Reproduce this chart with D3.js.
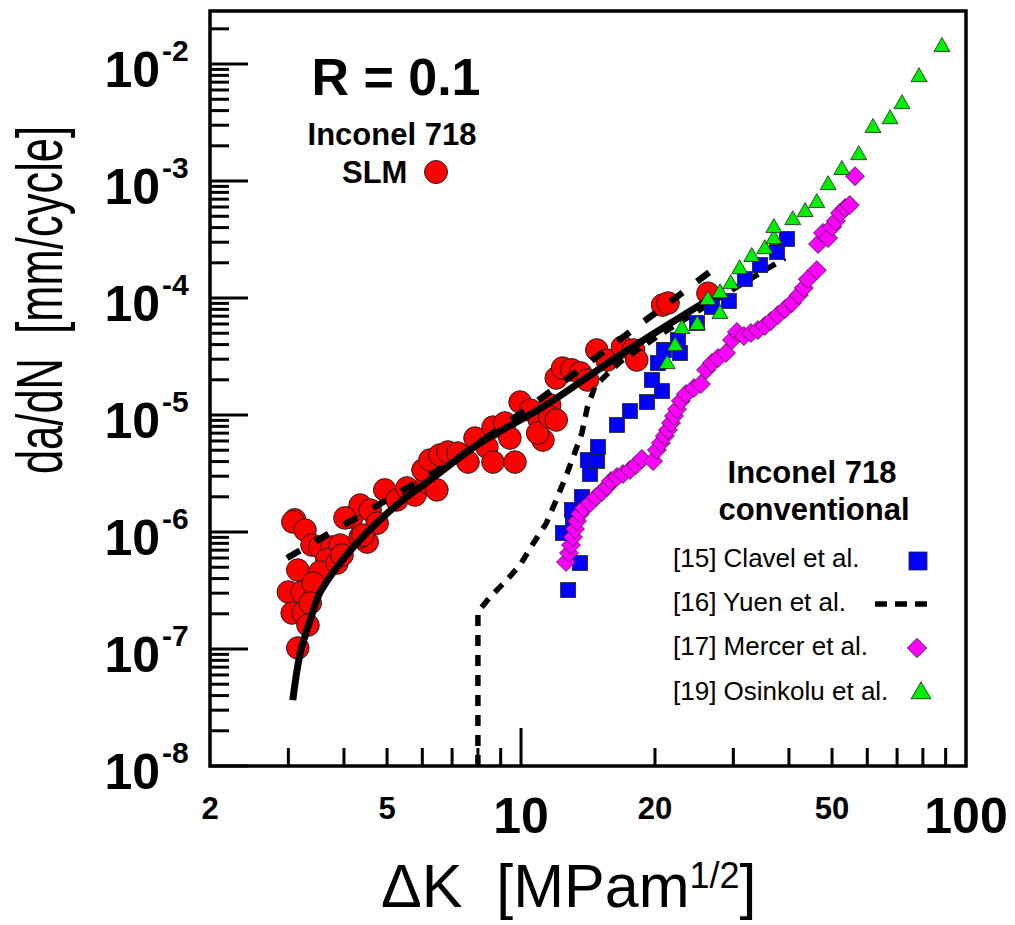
<!DOCTYPE html>
<html>
<head>
<meta charset="utf-8">
<script src="https://cdn.jsdelivr.net/npm/d3@7"></script>
<style>
  body { margin: 0; background: #fff; }
  svg { display: block; font-family: "Liberation Sans", Arial, sans-serif; }
</style>
</head>
<body>
<div id="chart"></div>
<script>
// Inconel 718 SLM, R = 0.1  [dK, da/dN]
const slmPoints = [
  [3.10,1.27e-6],[3.07,1.22e-6],[3.27,1.04e-6],[3.15,4.73e-7],[3.00,3.07e-7],[3.22,3.07e-7],
  [3.06,2.03e-7],[3.24,2.03e-7],[3.32,1.60e-7],[3.15,1.02e-7],[3.39,7.74e-7],[3.53,7.45e-7],
  [3.76,7.45e-7],[3.92,7.74e-7],[3.66,5.77e-7],[3.53,4.55e-7],[3.41,3.66e-7],[3.86,5.43e-7],
  [3.96,6.35e-7],[3.36,2.47e-7],[4.17,1.34e-6],[4.35,1.70e-6],[4.58,1.54e-6],[4.75,1.19e-6],
  [4.51,8.2e-7],[4.35,9.06e-7],[4.02,1.32e-6],[4.41,9.4e-7],[4.94,2.29e-6],[5.26,1.88e-6],
  [5.54,2.38e-6],[5.78,2.07e-6],[6.15,2.67e-6],[6.47,2.29e-6],[6.02,3.39e-6],[6.24,4.12e-6],
  [6.57,4.55e-6],[6.85,4.83e-6],[7.21,4.73e-6],[7.60,3.96e-6],[7.88,6.35e-6],[8.38,5.32e-6],
  [8.65,3.96e-6],[9.69,3.96e-6],[8.65,7.88e-6],[9.20,8.55e-6],[9.44,6.35e-6],[9.95,1.29e-5],
  [10.5,1.10e-5],[11.0,9.06e-6],[11.2,6.1e-6],[10.9,7.0e-6],[11.6,1.22e-5],[11.6,9.6e-6],
  [12.0,9.06e-6],[12.0,2.07e-5],[12.4,2.52e-5],[13.0,2.43e-5],[13.6,2.29e-5],[14.1,1.99e-5],
  [14.8,3.6e-5],[15.6,2.95e-5],[16.9,3.81e-5],[17.9,3.6e-5],[18.2,2.95e-5],[20.8,8.7e-5],
  [21.4,9.06e-5],[26.3,1.10e-4]
];

// fitted curve through the SLM data (solid)
const slmFitCurve = [
  [3.07,3.66e-8],[3.19,9.2e-8],[3.36,1.77e-7],[3.53,3.01e-7],[3.86,5.02e-7],[4.28,8.05e-7],
  [4.82,1.27e-6],[5.43,1.88e-6],[6.24,2.78e-6],[8.09,5.77e-6],[11.2,1.17e-5],[16.7,3.26e-5],
  [25.9,9.25e-5]
];

// power-law line through the SLM data (dashed)
const slmParisLine = [
  [2.98,6.0e-7],[5.21,2.07e-6],[7.18,4.28e-6],[19.5,6.89e-5],[28.0,1.95e-4]
];

// [15] Clavel et al.
const clavelPoints = [
  [12.76,3.19e-7],[13.57,5.43e-7],[12.43,9.8e-7],[13.08,1.19e-6],[13.02,1.54e-6],[13.71,1.99e-6],
  [14.29,3.13e-6],[14.13,4.12e-6],[14.82,4.04e-6],[14.89,5.32e-6],[16.43,8.22e-6],[17.57,1.08e-5],
  [19.19,1.29e-5],[20.74,1.60e-5],[19.69,1.99e-5],[20.31,2.78e-5],[20.94,3.6e-5],[22.76,3.39e-5],
  [22.53,4.38e-5],[24.85,6.11e-5],[26.85,8.38e-5],[29.31,9.42e-5],[31.84,1.45e-4],[34.43,1.91e-4],
  [37.6,2.47e-4],[39.6,3.19e-4]
];

// [16] Yuen et al.
const yuenCurve = [
  [8.0,1e-8],[8.0,2.07e-7],[8.52,2.78e-7],[9.20,3.74e-7],[9.95,5.22e-7],[10.6,7.74e-7],
  [11.4,1.19e-6],[12.0,1.88e-6],[12.7,3.19e-6],[13.2,4.73e-6],[13.7,7.0e-6],[14.1,1.17e-5],
  [14.7,1.80e-5],[16.7,2.84e-5],[20.5,4.83e-5],[29.0,1.10e-4],[39.2,2.20e-4]
];

// [17] Mercer et al.
const mercerPoints = [
  [12.62,5.54e-7],[12.82,6.62e-7],[12.95,7.74e-7],[13.08,9.06e-7],[13.22,1.06e-6],[13.36,1.24e-6],
  [13.57,1.43e-6],[13.85,1.60e-6],[14.29,1.77e-6],[14.74,1.99e-6],[15.20,2.20e-6],[15.60,2.43e-6],
  [15.93,2.73e-6],[16.43,2.95e-6],[16.95,3.13e-6],[17.57,3.39e-6],[18.12,3.74e-6],[18.69,4.21e-6],
  [19.80,4.04e-6],[20.20,5.02e-6],[20.62,5.77e-6],[21.05,6.62e-6],[21.39,7.45e-6],[21.73,8.55e-6],
  [22.07,9.8e-6],[22.41,1.12e-5],[22.87,1.32e-5],[23.48,1.51e-5],[24.47,1.70e-5],[25.36,1.84e-5],
  [26.05,2.43e-5],[26.85,2.78e-5],[27.71,3.07e-5],[28.88,3.39e-5],[29.79,4.38e-5],[30.56,5.12e-5],
  [31.68,4.73e-5],[32.85,5.02e-5],[34.06,5.32e-5],[35.31,5.77e-5],[36.45,6.36e-5],[37.8,7.16e-5],
  [39.2,8.05e-5],[40.6,9.06e-5],[42.1,1.06e-4],[43.2,1.22e-4],[44.1,1.45e-4],[46.2,1.73e-4],
  [46.5,2.90e-4],[47.7,3.60e-4],[49.0,3.26e-4],[50.0,4.05e-4],[51.0,4.55e-4],[52.1,5.32e-4],
  [53.5,5.87e-4],[54.8,6.23e-4],[56.3,1.10e-3]
];

// [19] Osinkolu et al.
const osinkoluPoints = [
  [21.3,2.78e-5],[22.2,3.96e-5],[23.0,5.55e-5],[24.9,6.0e-5],[26.3,9.8e-5],[28.0,1.12e-4],
  [28.0,7.45e-5],[29.6,1.34e-4],[31.0,1.80e-4],[33.0,2.29e-4],[35.3,2.67e-4],[37.0,3.26e-4],
  [37.0,4.05e-4],[40.8,4.73e-4],[43.5,5.54e-4],[46.2,6.62e-4],[49.0,9.42e-4],[52.6,1.27e-3],
  [57.4,1.70e-3],[61.8,2.90e-3],[67.5,3.45e-3],[71.8,4.64e-3],[78.4,7.89e-3],[88.3,1.43e-2]
];

const yDecades = [-8, -7, -6, -5, -4, -3, -2];
const xSmallLabels = [2, 5, 20, 50];
const xBigLabels = [10, 100];
const legendLabels = ['[15] Clavel et al.', '[16] Yuen et al.', '[17] Mercer et al.', '[19] Osinkolu et al.'];

const W = 1015, H = 925;
const svg = d3.select('#chart').append('svg').attr('width', W).attr('height', H);

const x = d3.scaleLog().domain([2, 100]).range([210, 966]);
const y = d3.scaleLog().domain([1e-8, 0.0284]).range([766, 11]);

// only 1..9 x 10^n ticks
const isLogStep = v => {
  const m = v / Math.pow(10, Math.floor(Math.log10(v) + 1e-9));
  return Math.abs(m - Math.round(m)) < 1e-6;
};

// ticks (inside, left and bottom only)
const tickG = svg.append('g').attr('stroke', '#000').attr('stroke-width', 3);
y.ticks().filter(isLogStep).forEach(v => {
  const lg = Math.log10(v);
  const major = Math.abs(lg - Math.round(lg)) < 1e-6;
  tickG.append('line')
    .attr('x1', 210).attr('x2', 210 + (major ? 38 : 19))
    .attr('y1', y(v)).attr('y2', y(v));
});
x.ticks().filter(isLogStep).forEach(v => {
  if (v <= 2 || v >= 100) return;
  tickG.append('line')
    .attr('x1', x(v)).attr('x2', x(v))
    .attr('y1', 766).attr('y2', 766 - (v === 10 ? 38 : 18));
});

// frame
svg.append('rect')
  .attr('x', 210).attr('y', 11).attr('width', 756).attr('height', 755)
  .attr('fill', 'none').attr('stroke', '#000').attr('stroke-width', 3.5);

// y tick labels
yDecades.forEach(e => {
  const yy = y(Math.pow(10, e));
  svg.append('text').attr('font-weight', 'bold').attr('font-size', 50)
    .attr('x', 160).attr('y', yy + 23).attr('text-anchor', 'end').text('10');
  svg.append('text').attr('font-weight', 'bold').attr('font-size', 30)
    .attr('x', 162).attr('y', yy - 3).text('-' + Math.abs(e));
});

// x tick labels
xSmallLabels.forEach(v => {
  svg.append('text').attr('x', x(v)).attr('y', 819).attr('text-anchor', 'middle')
    .attr('font-weight', 'bold').attr('font-size', 31).text(v);
});
xBigLabels.forEach(v => {
  svg.append('text').attr('x', x(v)).attr('y', 833).attr('text-anchor', 'middle')
    .attr('font-weight', 'bold').attr('font-size', 50).text(v);
});

// axis titles
const xt = svg.append('text').attr('x', 381).attr('y', 907)
  .attr('font-size', 61).style('white-space', 'pre');
xt.append('tspan').text('ΔK  [MPam');
xt.append('tspan').attr('font-size', 36).attr('dy', -19).text('1/2');
xt.append('tspan').attr('dy', 19).text(']');

// the y title is drawn condensed along its length, as in the original
svg.append('text')
  .attr('transform', 'translate(62,300) rotate(-90) scale(0.68,1)')
  .attr('text-anchor', 'middle')
  .attr('font-size', 64)
  .style('white-space', 'pre')
  .text('da/dN  [mm/cycle]');

// data
const plot = svg.append('g');
const px = d => x(d[0]), py = d => y(d[1]);

plot.append('g').selectAll('circle').data(slmPoints).join('circle')
  .attr('cx', px).attr('cy', py).attr('r', 11.3)
  .attr('fill', '#ff0000').attr('stroke', '#222').attr('stroke-width', 1);

const smooth = d3.line().x(px).y(py).curve(d3.curveCatmullRom.alpha(0.5));
plot.append('path').datum(yuenCurve)
  .attr('d', d3.line().x(px).y(py))
  .attr('fill', 'none').attr('stroke', '#000').attr('stroke-width', 5.5)
  .attr('stroke-dasharray', '11,9');
plot.append('path').datum(slmParisLine)
  .attr('d', smooth)
  .attr('fill', 'none').attr('stroke', '#000').attr('stroke-width', 6.5)
  .attr('stroke-dasharray', '15,18');
plot.append('path').datum(slmFitCurve)
  .attr('d', smooth)
  .attr('fill', 'none').attr('stroke', '#000').attr('stroke-width', 7);

plot.append('g').selectAll('rect').data(clavelPoints).join('rect')
  .attr('x', d => px(d) - 7.5).attr('y', d => py(d) - 7.5)
  .attr('width', 15).attr('height', 15)
  .attr('fill', '#0000ff').attr('stroke', '#222').attr('stroke-width', 0.8);

const diamond = r => `M0,${-r}L${r},0L0,${r}L${-r},0Z`;
const triangle = (w, h) => `M0,${-h * 0.6}L${w / 2},${h * 0.4}L${-w / 2},${h * 0.4}Z`;

plot.append('g').selectAll('path').data(mercerPoints).join('path')
  .attr('transform', d => `translate(${px(d)},${py(d)})`)
  .attr('d', diamond(9.5))
  .attr('fill', '#ff00ff').attr('stroke', '#222').attr('stroke-width', 0.8);

plot.append('g').selectAll('path').data(osinkoluPoints).join('path')
  .attr('transform', d => `translate(${px(d)},${py(d)})`)
  .attr('d', triangle(16, 14))
  .attr('fill', '#00ee00').attr('stroke', '#222').attr('stroke-width', 0.8);

// annotations
svg.append('text').attr('x', 396).attr('y', 95).attr('text-anchor', 'middle')
  .attr('font-weight', 'bold').attr('font-size', 52).text('R = 0.1');
svg.append('text').attr('x', 392).attr('y', 145).attr('text-anchor', 'middle')
  .attr('font-weight', 'bold').attr('font-size', 31).text('Inconel 718');
svg.append('text').attr('x', 342).attr('y', 183)
  .attr('font-weight', 'bold').attr('font-size', 31).text('SLM');
svg.append('circle').attr('cx', 436).attr('cy', 172).attr('r', 11.5)
  .attr('fill', '#ff0000').attr('stroke', '#222').attr('stroke-width', 1);

// legend
svg.append('text').attr('x', 812).attr('y', 483).attr('text-anchor', 'middle')
  .attr('font-weight', 'bold').attr('font-size', 31).text('Inconel 718');
svg.append('text').attr('x', 814).attr('y', 520).attr('text-anchor', 'middle')
  .attr('font-weight', 'bold').attr('font-size', 31).text('conventional');

const legY = [567, 611, 655, 700];
legendLabels.forEach((s, i) => {
  svg.append('text').attr('x', 673).attr('y', legY[i]).attr('font-size', 26).text(s);
});
svg.append('rect').attr('x', 909).attr('y', 552).attr('width', 18).attr('height', 18)
  .attr('fill', '#0000ff').attr('stroke', '#222').attr('stroke-width', 0.8);
svg.append('line').attr('x1', 875).attr('x2', 935).attr('y1', 604).attr('y2', 604)
  .attr('stroke', '#000').attr('stroke-width', 5.5).attr('stroke-dasharray', '12,8');
svg.append('path').attr('transform', 'translate(917,648)').attr('d', diamond(9.7))
  .attr('fill', '#ff00ff').attr('stroke', '#222').attr('stroke-width', 0.8);
svg.append('path').attr('transform', 'translate(921,692)').attr('d', triangle(20, 17))
  .attr('fill', '#00ee00').attr('stroke', '#222').attr('stroke-width', 0.8);
</script>
</body>
</html>
